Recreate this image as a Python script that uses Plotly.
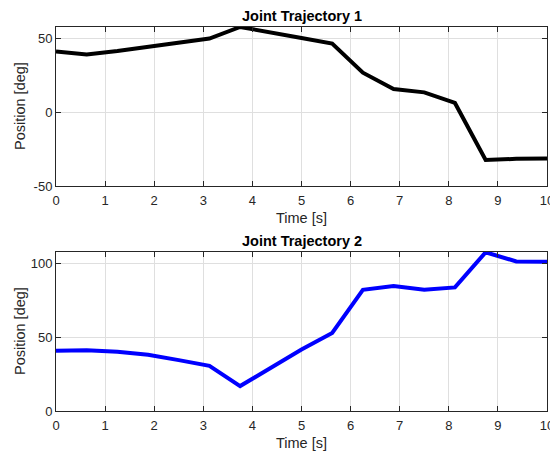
import plotly.graph_objects as go

time_s = [0, 0.625, 1.25, 1.875, 2.5, 3.125, 3.75, 4.375, 5, 5.625, 6.25, 6.875, 7.5, 8.125, 8.75, 9.375, 10]
joint1 = [41.2, 39.2, 41.5, 44.5, 47.3, 50.0, 57.8, 53.8, 50.4, 46.6, 26.8, 15.7, 13.5, 6.3, -32.4, -31.6, -31.3]
joint2 = [40.8, 41.2, 40.1, 38.1, 34.5, 30.6, 16.9, 29.3, 41.7, 52.9, 82.2, 84.7, 82.2, 83.8, 107.6, 101.4, 101.2]
x_ticks = list(range(11))
y1_ticks = [-50, 0, 50]
y2_ticks = [0, 50, 100]
titles = ["Joint Trajectory 1", "Joint Trajectory 2"]
xlabel = "Time [s]"
ylabel = "Position [deg]"

W, H = 550, 452
AX = "#262626"
GRID = "#dfdfdf"
FONT = "Liberation Sans, Arial, Helvetica, sans-serif"

fig = go.Figure()
fig.add_trace(go.Scatter(x=time_s, y=joint1, mode="lines", line=dict(color="#000000", width=4),
                         xaxis="x", yaxis="y", showlegend=False, cliponaxis=True))
fig.add_trace(go.Scatter(x=time_s, y=joint2, mode="lines", line=dict(color="#0000ff", width=4),
                         xaxis="x2", yaxis="y2", showlegend=False, cliponaxis=True))

def py(p):
    return 1 - p / H

top_dom = [py(186), py(26.7)]
bot_dom = [py(411), py(251.7)]

xcommon = dict(range=[0, 10], tickvals=x_ticks, ticktext=[str(v) for v in x_ticks],
               ticks="inside", ticklen=5, tickcolor=AX,
               showline=True, linecolor=AX, linewidth=1, mirror="ticks", showgrid=True,
               gridcolor=GRID, gridwidth=1, zeroline=False, tickfont=dict(size=13, color=AX, family=FONT),
               domain=[56 / W, 547 / W], automargin=False, ticklabeloverflow="allow",
               ticklabelstandoff=2)
ycommon = dict(ticks="inside", ticklen=5, tickcolor=AX, showline=True, linecolor=AX, linewidth=1,
               mirror="ticks", showgrid=True, gridcolor=GRID, gridwidth=1, zeroline=False,
               tickfont=dict(size=13, color=AX, family=FONT), automargin=False)

fig.update_layout(
    template="none",
    width=W, height=H,
    margin=dict(l=0, r=0, t=0, b=0, pad=0),
    paper_bgcolor="white", plot_bgcolor="white",
    font=dict(family=FONT, color=AX),
    xaxis=dict(**xcommon, anchor="y"),
    yaxis=dict(**ycommon, anchor="x", domain=top_dom, range=[-50, 58], tickvals=y1_ticks,
               ticktext=[str(v) for v in y1_ticks]),
    xaxis2=dict(**xcommon, anchor="y2"),
    yaxis2=dict(**ycommon, anchor="x2", domain=bot_dom, range=[0, 108], tickvals=y2_ticks,
                ticktext=[str(v) for v in y2_ticks]),
)

cx = (56 + 547) / 2 / W
anns = []
for t, ty, xy, yy in [(titles[0], 16, 218, 106), (titles[1], 241, 443, 331)]:
    anns.append(dict(text="<b>" + t + "</b>", x=cx, y=py(ty), xref="paper", yref="paper",
                     xanchor="center", yanchor="middle", showarrow=False,
                     font=dict(size=14.5, color="#000000", family=FONT)))
    anns.append(dict(text=xlabel, x=cx, y=py(xy), xref="paper", yref="paper",
                     xanchor="center", yanchor="middle", showarrow=False,
                     font=dict(size=14.5, color=AX, family=FONT)))
    anns.append(dict(text=ylabel, x=20 / W, y=py(yy), xref="paper", yref="paper",
                     xanchor="center", yanchor="middle", showarrow=False, textangle=-90,
                     font=dict(size=14.5, color=AX, family=FONT)))
fig.update_layout(annotations=anns)

fig.write_html("out.html")
